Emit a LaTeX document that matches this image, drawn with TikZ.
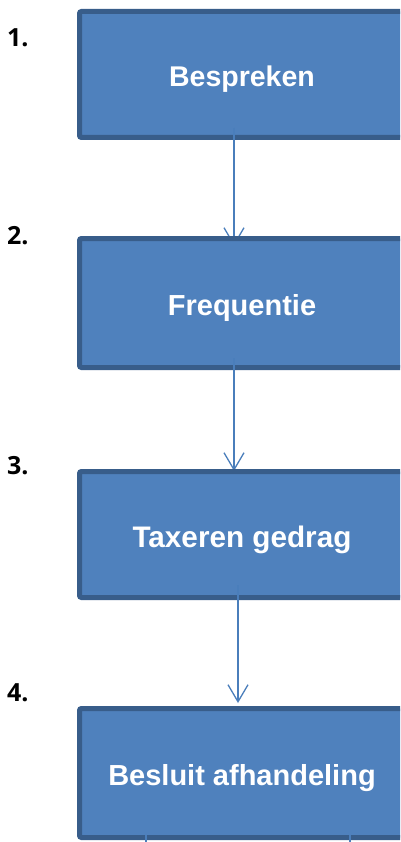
\documentclass[tikz,border=0pt]{standalone}
\usepackage{fontspec}
\setmainfont{Liberation Sans}
\newfontfamily\numfont{Open Sans}
\usetikzlibrary{arrows.meta}
\definecolor{boxfill}{HTML}{4F81BD}
\definecolor{boxline}{HTML}{385D8A}
\definecolor{arrowcol}{HTML}{4A7EBB}
\tikzset{
  stepbox/.style={draw=boxline, fill=boxfill, line width=5pt, rounded corners=2pt,
    minimum width=325pt, text=white, font=\bfseries, inner sep=0pt,
    text height=25pt, text depth=0pt},
  flow/.style={draw=arrowcol, line width=1.3pt, -{Straight Barb[length=17pt,width=20pt,line width=1.3pt]}},
  stub/.style={draw=arrowcol, line width=1.3pt},
  numlabel/.style={anchor=base west, inner sep=0pt, font=\numfont\bfseries\fontsize{25}{28}\selectfont}
}
\begin{document}
\begin{tikzpicture}[x=1pt,y=-1pt]
\useasboundingbox (0,0) rectangle (400,842);
\clip (0,0) rectangle (400,842);
\fill[white] (0,0) rectangle (400,842);
% labels
\node[numlabel] (n1) at (7,47) {1.};
\node[numlabel] (n2) at (7,244) {2.};
\node[numlabel] (n3) at (7,474) {3.};
\node[numlabel] (n4) at (7,701) {4.};
% box 1
\node[stepbox, minimum height=126pt] (b1) at (242,74.5) {\fontsize{28.5}{32}\selectfont Bespreken};
\coordinate (a1s) at (234,128);
\coordinate (a1e) at (234,246);
\draw[flow] (a1s) -- (a1e);
% box 2
\node[stepbox, minimum height=129pt] (b2) at (242,303) {\fontsize{29}{32}\selectfont Frequentie};
\coordinate (a2s) at (234,358);
\coordinate (a2e) at (234,471);
\draw[flow] (a2s) -- (a2e);
% box 3
\node[stepbox, minimum height=126pt] (b3) at (242,534.5) {\fontsize{29.7}{33}\selectfont Taxeren gedrag};
\coordinate (a3s) at (238,585);
\coordinate (a3e) at (238,703);
\draw[flow] (a3s) -- (a3e);
% box 4
\node[stepbox, minimum height=129pt] (b4) at (242,773) {\fontsize{29}{32}\selectfont Besluit afhandeling};
\coordinate (s1s) at (146,835);
\coordinate (s1e) at (146,846);
\coordinate (s2s) at (350,835);
\coordinate (s2e) at (350,846);
\draw[stub] (s1s) -- (s1e);
\draw[stub] (s2s) -- (s2e);
\end{tikzpicture}
\end{document}
